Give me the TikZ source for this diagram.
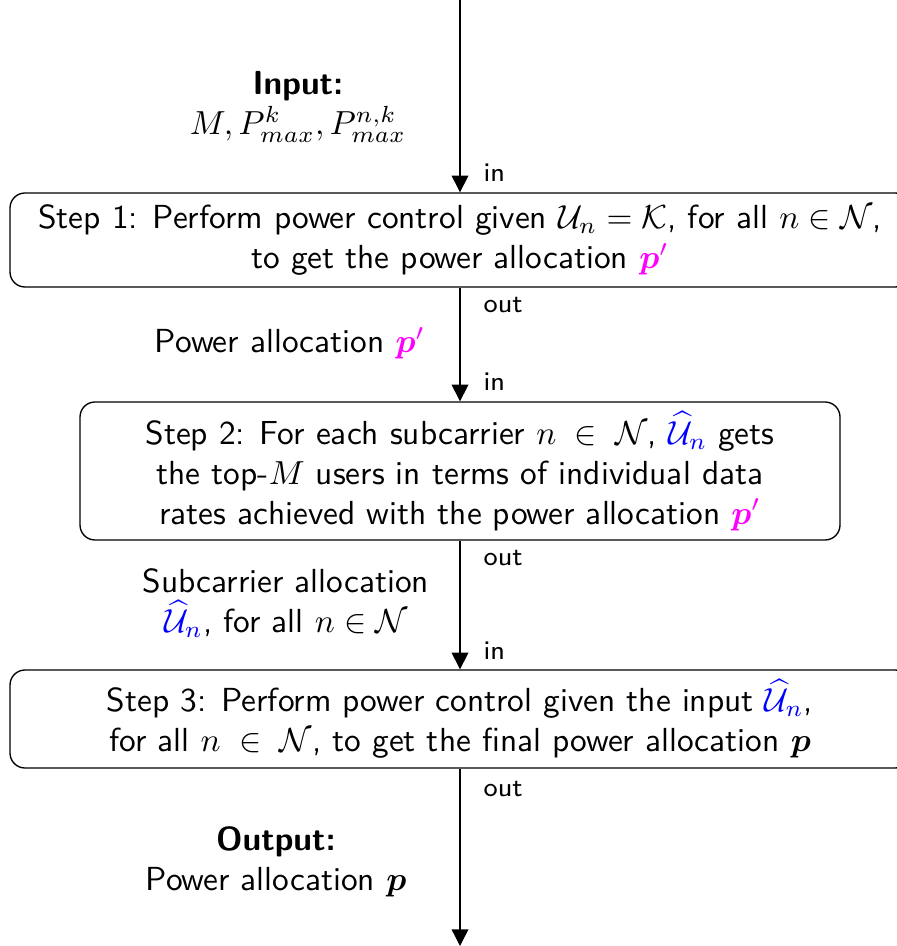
\documentclass[tikz,border=0pt]{standalone}
\usepackage{amsmath,amssymb}
\usetikzlibrary{arrows.meta}
\renewcommand{\familydefault}{\sfdefault}
\definecolor{pmag}{RGB}{255,0,255}
\definecolor{ublue}{RGB}{0,0,255}
\newcommand{\pp}{\textcolor{pmag}{\boldsymbol{p}'}}
\newcommand{\uh}{\textcolor{ublue}{\widehat{\mathcal{U}}_n}}
\begin{document}
\begin{tikzpicture}[x=0.3pt,y=-0.3pt,
  stepbox/.style={draw,rounded corners=4.5pt,align=center,inner sep=0pt,line width=0.4pt},
  flow/.style={-{Triangle[width=5pt,length=5pt]},line width=0.4pt},
  portlbl/.style={font=\footnotesize,anchor=west,inner sep=0pt},
  sidetxt/.style={align=center,inner sep=0pt}]
\useasboundingbox (0,0) rectangle (896,946);
\coordinate (top) at (460,0);
\coordinate (bot) at (460,946);
\node[stepbox,minimum width=270pt,minimum height=28.2pt] (b1) at (460,240)
  {Step 1: Perform power control given $\mathcal{U}_n=\mathcal{K}$, for all $n\in\mathcal{N}$,\\ to get the power allocation $\pp$};
\node[stepbox,minimum width=228pt,minimum height=41.4pt] (b2) at (460,471)
  {Step 2: For each subcarrier $n\;\in\;\mathcal{N}$, $\uh$ gets\\ the top-$M$ users in terms of individual data\\ rates achieved with the power allocation $\pp$};
\node[stepbox,minimum width=270pt,minimum height=29.4pt] (b3) at (460,719)
  {Step 3: Perform power control given the input $\uh$,\\ for all $n\;\in\;\mathcal{N}$, to get the final power allocation $\boldsymbol{p}$};
\draw[flow] (top) -- (b1);
\draw[flow] (b1) -- (b2);
\draw[flow] (b2) -- (b3);
\draw[flow] (b3) -- (bot);
\node[portlbl] (in1) at (483,173) {in};
\node[portlbl] (out1) at (483,305) {out};
\node[portlbl] (in2) at (483,382) {in};
\node[portlbl] (out2) at (483,558) {out};
\node[portlbl] (in3) at (483,651) {in};
\node[portlbl] (out3) at (483,789) {out};
\node[sidetxt] (inp) at (298,107) {\textbf{Input:}\\ $M,P_{max}^{k},P_{max}^{n,k}$};
\node[sidetxt] (pa) at (290,343) {Power allocation $\pp$};
\node[sidetxt] (sa) at (286,603) {Subcarrier allocation\\ $\uh$, for all $n\in\mathcal{N}$};
\node[sidetxt] (outp) at (276,862) {\textbf{Output:}\\ Power allocation $\boldsymbol{p}$};
\end{tikzpicture}
\end{document}
